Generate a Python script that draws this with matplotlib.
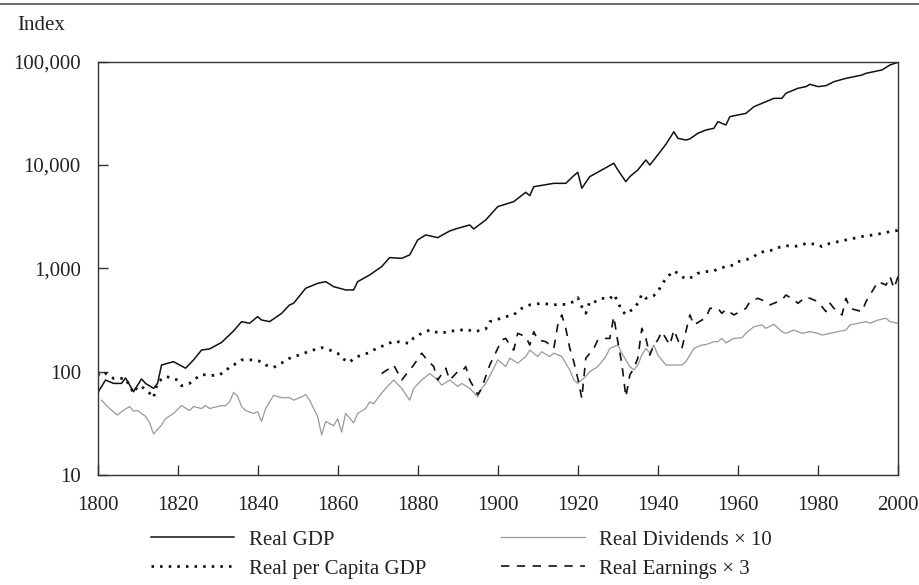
import numpy as np
import matplotlib
matplotlib.use("Agg")
import matplotlib.pyplot as plt
from matplotlib.lines import Line2D
from matplotlib.ticker import FixedLocator, NullLocator, FuncFormatter

# values (index, log scale)
gdp_years = [1800, 1802, 1804, 1806, 1807, 1809, 1811, 1812, 1814, 1815, 1816, 1819,
             1822, 1824, 1826, 1828, 1831, 1834, 1836, 1838, 1840, 1841, 1843, 1846,
             1848, 1849, 1852, 1855, 1857, 1859, 1862, 1864, 1865, 1868, 1871, 1873,
             1876, 1878, 1880, 1882, 1885, 1888, 1890, 1893, 1894, 1897, 1900, 1904,
             1907, 1908, 1909, 1914, 1917, 1919, 1920, 1921, 1923, 1926, 1929, 1930,
             1932, 1933, 1935, 1937, 1938, 1939, 1942, 1944, 1945, 1947, 1948, 1950,
             1952, 1954, 1955, 1957, 1958, 1960, 1962, 1964, 1967, 1969, 1971, 1972,
             1975, 1977, 1978, 1980, 1982, 1984, 1987, 1991, 1992, 1996, 1998, 2000]
gdp = [62, 83, 77, 77, 87, 64, 85, 77, 69, 77, 116, 125,
       108, 130, 162, 166, 192, 248, 305, 294, 341, 316, 305, 367,
       443, 459, 641, 716, 744, 665, 618, 618, 744, 863, 1040, 1271,
       1250, 1349, 1884, 2105, 1984, 2300, 2442, 2630, 2405, 2940, 3955, 4425,
       5445, 5055, 6170, 6650, 6650, 7890, 8510, 5960, 7720, 8960, 10400, 8960,
       6900, 7720, 8960, 11190, 10000, 11190, 15850, 21000, 18130, 17460, 17900, 20280,
       21830, 22650, 26300, 24400, 29400, 30500, 31600, 36700, 41000, 44200, 44200, 49500,
       55300, 57400, 60400, 57400, 58600, 64100, 69000, 74300, 77200, 83200, 93000, 98600]

pc_years = [1800, 1801, 1802, 1804, 1805, 1806, 1807, 1809, 1810, 1811, 1813, 1814,
            1815, 1817, 1818, 1820, 1821, 1823, 1824, 1826, 1828, 1830, 1832, 1833,
            1834, 1836, 1838, 1839, 1841, 1842, 1844, 1846, 1847, 1849, 1851, 1853,
            1855, 1856, 1858, 1860, 1861, 1863, 1864, 1866, 1868, 1869, 1870, 1872,
            1874, 1876, 1878, 1879, 1881, 1883, 1884, 1886, 1888, 1890, 1892, 1894,
            1895, 1897, 1898, 1900, 1902, 1904, 1905, 1906, 1908, 1911, 1913, 1915,
            1917, 1919, 1920, 1921, 1922, 1923, 1924, 1926, 1928, 1929, 1930, 1931,
            1932, 1934, 1935, 1936, 1937, 1939, 1940, 1941, 1942, 1944, 1945, 1946,
            1947, 1949, 1950, 1952, 1954, 1955, 1957, 1959, 1960, 1962, 1964, 1965,
            1967, 1969, 1970, 1972, 1974, 1976, 1977, 1980, 1981, 1983, 1985, 1987,
            1989, 1991, 1992, 1994, 1996, 1997, 1999, 2000]
per_capita = [95, 90, 96, 86, 86, 86, 86, 62, 72, 72, 62, 56,
              79, 90, 88, 83, 73, 77, 83, 94, 92, 92, 100, 112,
              116, 130, 130, 130, 125, 116, 110, 121, 130, 140, 147, 159,
              166, 171, 162, 151, 135, 123, 135, 145, 153, 162, 171, 181,
              198, 192, 188, 213, 235, 253, 244, 235, 248, 248, 259, 244,
              248, 259, 305, 321, 341, 354, 387, 410, 443, 459, 449, 443,
              449, 476, 521, 426, 367, 476, 469, 513, 506, 561, 476, 387,
              359, 410, 459, 561, 513, 545, 596, 690, 801, 944, 896, 832,
              789, 832, 896, 929, 944, 987, 1040, 1079, 1161, 1205, 1298, 1399,
              1473, 1507, 1586, 1660, 1624, 1683, 1746, 1707, 1624, 1746, 1811, 1882,
              1954, 2028, 2070, 2105, 2183, 2230, 2300, 2330]

div_years = [1801, 1803, 1805, 1806, 1808, 1809, 1810, 1812, 1813, 1814, 1816, 1817,
             1819, 1821, 1823, 1824, 1826, 1827, 1828, 1831, 1832, 1833, 1834, 1835,
             1836, 1837, 1839, 1840, 1841, 1842, 1843, 1844, 1846, 1848, 1849, 1851,
             1852, 1853, 1854, 1855, 1856, 1857, 1859, 1860, 1861, 1862, 1864, 1865,
             1867, 1868, 1869, 1871, 1872, 1874, 1876, 1878, 1879, 1881, 1883, 1885,
             1886, 1888, 1890, 1891, 1893, 1895, 1896, 1897, 1899, 1900, 1902, 1903,
             1905, 1907, 1908, 1910, 1911, 1913, 1914, 1916, 1917, 1918, 1919, 1920,
             1922, 1923, 1925, 1927, 1928, 1930, 1931, 1933, 1934, 1935, 1936, 1937,
             1938, 1939, 1940, 1941, 1942, 1944, 1946, 1947, 1949, 1951, 1952, 1954,
             1955, 1956, 1957, 1959, 1961, 1962, 1964, 1966, 1967, 1969, 1971, 1972,
             1974, 1976, 1978, 1980, 1981, 1983, 1985, 1987, 1988, 1990, 1992, 1993,
             1995, 1997, 1998, 2000]
dividends_x10 = [53, 44, 38, 41, 46, 41.5, 42, 37, 32, 25, 30.5, 35,
                 39.5, 47, 42, 46, 44, 47, 44, 47, 47, 51, 63, 58,
                 46, 42, 39.5, 41, 33, 44, 51, 59, 56, 56, 53, 57,
                 60, 53, 44, 37, 24.4, 33, 30, 35, 26, 39.5, 32, 39.5,
                 44, 51, 49, 62, 69, 83, 69, 53, 69, 83, 96, 83,
                 74, 83, 72, 77, 69, 57, 69, 77, 108, 130, 112, 135,
                 121, 140, 162, 140, 156, 140, 151, 140, 120, 104, 83, 77,
                 90, 100, 112, 140, 168, 181, 151, 112, 104, 116, 145, 168,
                 151, 181, 145, 130, 116, 116, 116, 125, 168, 181, 183, 195,
                 195, 210, 190, 210, 213, 235, 273, 283, 263, 287, 244, 235,
                 253, 235, 244, 235, 226, 235, 244, 253, 283, 294, 305, 294,
                 316, 329, 305, 294]

earn_years = [1871, 1873, 1874, 1876, 1877, 1879, 1881, 1882, 1884, 1885, 1887, 1888,
              1890, 1891, 1892, 1893, 1895, 1896, 1897, 1898, 1900, 1901, 1902, 1903,
              1904, 1905, 1907, 1908, 1909, 1910, 1912, 1913, 1914, 1915, 1916, 1917,
              1918, 1919, 1920, 1921, 1922, 1924, 1925, 1927, 1928, 1929, 1930, 1931,
              1932, 1933, 1934, 1935, 1936, 1937, 1938, 1939, 1940, 1941, 1942, 1943,
              1944, 1945, 1946, 1947, 1948, 1949, 1951, 1952, 1953, 1955, 1956, 1957,
              1959, 1962, 1963, 1965, 1967, 1968, 1969, 1971, 1972, 1974, 1975, 1977,
              1978, 1980, 1982, 1983, 1984, 1986, 1987, 1988, 1991, 1992, 1994, 1995,
              1997, 1998, 1999, 2000]
earnings_x3 = [96, 108, 116, 83, 93, 116, 151, 135, 112, 83, 108, 83,
               100, 100, 112, 83, 60, 69, 90, 116, 168, 203, 210, 181,
               162, 235, 218, 181, 244, 203, 195, 181, 168, 283, 354, 263,
               168, 125, 86, 55, 135, 168, 203, 210, 210, 341, 195, 120,
               57, 93, 108, 135, 263, 210, 145, 181, 203, 244, 210, 181,
               253, 203, 168, 244, 354, 283, 316, 329, 410, 410, 367, 400,
               354, 410, 476, 513, 476, 443, 459, 494, 552, 494, 459, 529,
               513, 476, 381, 459, 410, 354, 513, 410, 381, 476, 641, 744,
               690, 832, 641, 832]

labels = ["Real GDP", "Real per Capita GDP", "Real Dividends \u00d7 10", "Real Earnings \u00d7 3"]
y_ticks = [10, 100, 1000, 10000, 100000]
x_ticks = list(range(1800, 2001, 20))

plt.rcParams["font.family"] = ["Liberation Serif", "DejaVu Serif"]
plt.rcParams["font.size"] = 15
plt.rcParams["text.color"] = "#222222"

fig = plt.figure(figsize=(9.19, 5.85), dpi=100)
ax = fig.add_axes([97.5 / 919, 1 - 475 / 585, (898 - 97.5) / 919, (475 - 61.7) / 585])

l1, = ax.plot(gdp_years, gdp, color="#111111", lw=1.1)
l2, = ax.plot(pc_years, per_capita, color="#111111", lw=2.0, linestyle=(0, (0.9, 2.2)))
l3, = ax.plot(div_years, dividends_x10, color="#999999", lw=0.9)
l4, = ax.plot(earn_years, earnings_x3, color="#111111", lw=1.2, linestyle=(0, (5, 4.5)))

ax.set_yscale("log")
ax.set_ylim(10, 100000)
ax.set_xlim(1800, 2000)
ax.yaxis.set_major_locator(FixedLocator(y_ticks))
ax.yaxis.set_minor_locator(NullLocator())
ax.yaxis.set_major_formatter(FuncFormatter(lambda v, p: f"{v:,.0f}"))
ax.xaxis.set_major_locator(FixedLocator(x_ticks))

ax.tick_params(direction="in", length=7, width=1, colors="#333333", labelcolor="#222222",
               labelsize=15)
ax.tick_params(axis="x", pad=15)
ax.tick_params(axis="y", pad=12)
for s in ax.spines.values():
    s.set_color("#333333")
    s.set_linewidth(1.0)

# rule at the very top and the axis title
fig.add_artist(Line2D([0, 1], [1 - 4 / 585, 1 - 4 / 585], color="#555555", lw=1.2))
fig.text(17 / 919, 1 - 25 / 585, "Index", fontsize=15, va="center", ha="left")

fig.legend([l1, l2, l3, l4], labels, ncol=2, loc="upper left",
           bbox_to_anchor=(151 / 919, 1 - 530 / 585), frameon=False,
           borderpad=0, borderaxespad=0, handlelength=4.0, handletextpad=0.7,
           columnspacing=3.6, labelspacing=0.45, fontsize=15)

fig.savefig("out.png", dpi=100)
